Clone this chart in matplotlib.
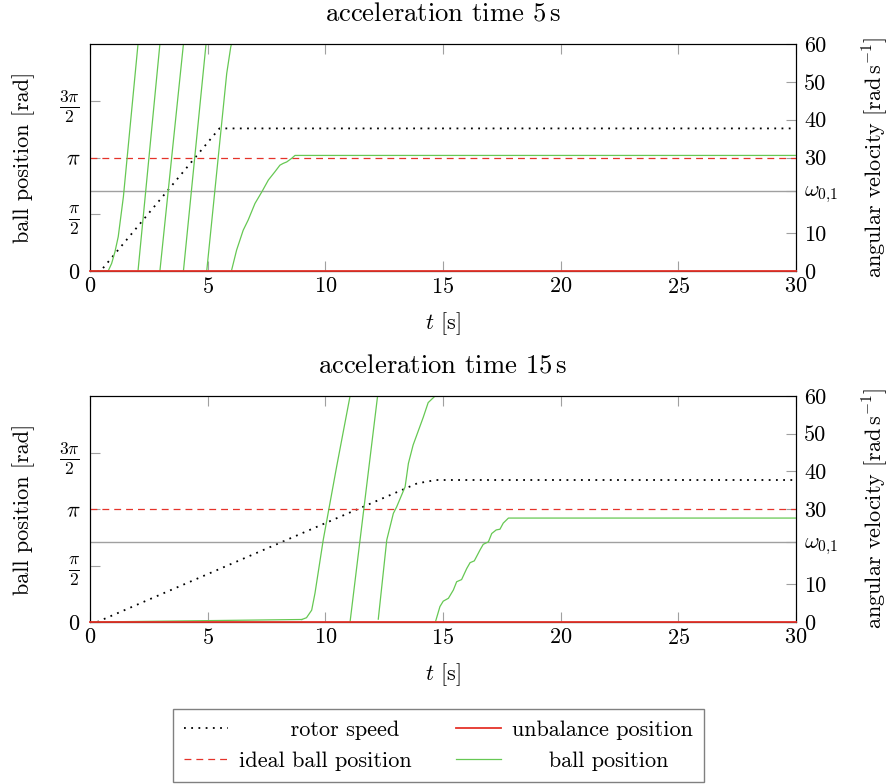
import numpy as np
import matplotlib
matplotlib.use("Agg")
import matplotlib.pyplot as plt

plt.rcParams.update({
    "font.family": "serif",
    "font.serif": ["cmr10"],
    "mathtext.fontset": "cm",
    "axes.formatter.use_mathtext": True,
    "font.size": 16,
})

RED = "#e5332a"
GREEN = "#66c853"
GRAY = "#a0a0a0"

omega_01 = 21.2          # rad/s, marked on right axis
ideal_pos = np.pi        # rad
unbalance_pos = 0.0      # rad

# rotor speed keypoints [rad/s]
rotor5_t = [0, 0.45, 5.5, 30]
rotor5_w = [0, 0, 37.7, 37.7]
rotor15_t = [0, 0.3, 13.9, 14.7, 30]
rotor15_w = [0, 0, 36.8, 37.7, 37.7]

ball5_t = [
    [0, 0.78],
    [0.78, 0.92, 1.06, 1.2, 1.42, 2.04],
    [2.04, 2.97],
    [2.97, 3.97],
    [3.97, 4.93],
    [4.96, 5.81, 5.98, 6.01],
    [6.02, 6.23, 6.51, 6.72, 7.01, 7.30, 7.58, 7.86, 8.07, 8.21, 8.36, 8.57, 8.71, 30],
]
ball5_pos = [
    [0, 0.01],
    [0.01, 0.21, 0.53, 0.95, 2.06, 6.28],
    [0, 6.28],
    [0, 6.28],
    [0, 6.28],
    [0, 5.47, 6.2, 6.28],
    [0.03, 0.58, 1.13, 1.41, 1.87, 2.19, 2.52, 2.75, 2.93, 2.98, 3.02, 3.12, 3.2, 3.2],
]

ball15_t = [
    [0, 9.0],
    [9.0, 9.2, 9.42, 9.56, 9.91, 10.48, 11.05],
    [11.05, 12.22],
    [12.25, 12.61, 12.89, 13.03, 13.39, 13.53, 13.73, 14.16, 14.37, 14.66],
    [14.69, 14.87, 15.01, 15.23, 15.44, 15.58, 15.79, 16.01, 16.15, 16.33, 16.57,
     16.71, 16.93, 17.07, 17.26, 17.42, 17.56, 17.78, 30],
]
ball15_pos = [
    [0, 0.07],
    [0.07, 0.12, 0.33, 0.8, 2.28, 4.32, 6.28],
    [0, 6.28],
    [0.08, 2.28, 3.02, 3.2, 3.76, 4.41, 4.92, 5.69, 6.1, 6.28],
    [0.03, 0.43, 0.58, 0.66, 0.89, 1.12, 1.18, 1.49, 1.65, 1.70, 2.0,
     2.16, 2.23, 2.46, 2.56, 2.58, 2.75, 2.89, 2.89],
]

pos_ticks = [0, np.pi / 2, np.pi, 3 * np.pi / 2]
pos_labels = [r"$0$", r"$\frac{\pi}{2}$", r"$\pi$", r"$\frac{3\pi}{2}$"]
speed_ticks = [0, 10, omega_01, 30, 40, 50, 60]
speed_labels = ["0", "10", r"$\omega_{0{,}1}$", "30", "40", "50", "60"]
time_ticks = [0, 5, 10, 15, 20, 25, 30]


def draw_panel(ax, title, rotor_t, rotor_w, ball_t, ball_pos):
    ax2 = ax.twinx()
    ax.set_zorder(ax2.get_zorder() + 1)
    ax.patch.set_visible(False)

    h = {}
    h["rotor"], = ax2.plot(rotor_t, rotor_w, color="black", lw=1.3,
                           linestyle=(0, (1, 3)))
    ax2.axhline(omega_01, color=GRAY, lw=1.0)
    h["ideal"] = ax.axhline(ideal_pos, color=RED, lw=0.9, linestyle=(0, (5.5, 4)))
    for t, p in zip(ball_t, ball_pos):
        h["ball"], = ax.plot(t, p, color=GREEN, lw=0.9)
    h["unb"] = ax.axhline(unbalance_pos, color=RED, lw=1.3, clip_on=False, zorder=3)

    ax.set_xlim(0, 30)
    ax.set_ylim(0, 2 * np.pi)
    ax2.set_ylim(0, 60)
    ax.set_xticks(time_ticks)
    ax.set_yticks(pos_ticks, pos_labels)
    for lbl in ax.get_yticklabels():
        if "frac" in lbl.get_text():
            lbl.set_fontsize(18)
    ax2.set_yticks(speed_ticks, speed_labels)

    ax.tick_params(axis="x", direction="in", top=True, bottom=True, length=7,
                   width=0.8, color=GRAY, pad=4)
    ax.tick_params(axis="y", direction="in", left=True, right=False, length=7,
                   width=0.8, color=GRAY, pad=7)
    ax2.tick_params(axis="y", direction="in", left=False, right=True, length=7,
                    width=0.8, color=GRAY, pad=6)
    for a in (ax, ax2):
        for s in a.spines.values():
            s.set_linewidth(0.8)

    ax.set_title(title, pad=17)
    ax.set_xlabel(r"$t$ [s]")
    ax.xaxis.set_label_coords(0.5, -0.172)
    ax.set_ylabel("ball position [rad]")
    ax.yaxis.set_label_coords(-0.078, 0.5)
    ax2.set_ylabel(r"angular velocity [rad$\,$s$^{-1}$]")
    ax2.yaxis.set_label_coords(1.091, 0.5)
    return h


fig = plt.figure(figsize=(8.91, 7.84), dpi=100)
ax_top = fig.add_axes([0.1010, 0.6543, 0.7924, 0.2895])
ax_bot = fig.add_axes([0.1010, 0.2066, 0.7924, 0.2883])

draw_panel(ax_top, r"acceleration time $5\,\mathrm{s}$", rotor5_t, rotor5_w, ball5_t, ball5_pos)
h = draw_panel(ax_bot, r"acceleration time $15\,\mathrm{s}$", rotor15_t, rotor15_w, ball15_t, ball15_pos)

leg = fig.legend(handles=[h["rotor"], h["ideal"], h["unb"], h["ball"]],
                 labels=["       rotor speed", "ideal ball position",
                         "unbalance position", "     ball position"],
                 ncol=2, loc="lower center", bbox_to_anchor=(0.492, 0.003),
                 fancybox=False, edgecolor="#808080", framealpha=1,
                 handlelength=2.0, handletextpad=0.5, columnspacing=2.0,
                 borderpad=0.5, labelspacing=0.5, borderaxespad=0)
leg.get_frame().set_linewidth(1.0)

fig.savefig("out.png", dpi=100)
